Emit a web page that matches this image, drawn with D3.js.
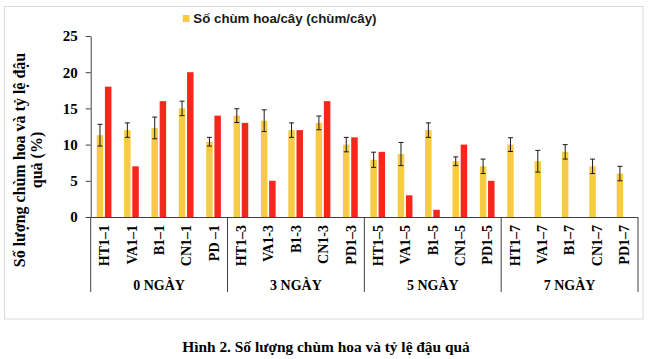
<!DOCTYPE html>
<html><head><meta charset="utf-8">
<script src="https://cdn.jsdelivr.net/npm/d3@7"></script>
<style>body{margin:0;background:#fff}svg{display:block}</style>
</head><body>
<svg id="c" width="650" height="359"></svg>
<script>
const categories = ["HT1–1","VA1–1","B1–1","CN1–1","PD –1",
  "HT1–3","VA1-3","B1-3","CN1-3","PD1–3",
  "HT1–5","VA1–5","B1–5","CN1–5","PD1–5",
  "HT1–7","VA1–7","B1–7","CN1–7","PD1–7"];
const groups = ["0 NGÀY","3 NGÀY","5 NGÀY","7 NGÀY"];
const groupSize = 5;
const flowerClusters = [11.3,12,12.3,15,10.4, 14,13.3,12,13,10, 7.9,8.7,12,7.7,7, 10,7.7,9,7,6];
const flowerErr = [1.5,1,1.5,1,0.6, 0.95,1.5,1,0.95,1, 1.05,1.6,1,0.6,1, 0.95,1.5,1,1,1];
const fruitSet = [18,7,16,20,14, 13,5,12,16,11, 9,3,1,10,5, null,null,null,null,null];
const yTicks = [0,5,10,15,20,25];
const legendLabel = "Số chùm hoa/cây (chùm/cây)";
const yTitle = ["Số lượng chùm hoa và tỷ lệ đậu","quả (%)"];
const caption = "Hình 2. Số lượng chùm hoa và tỷ lệ đậu quả";

const svg = d3.select("#c");
const serif = "'Liberation Serif','Times New Roman',serif";
const sans = "'Liberation Sans',Arial,sans-serif";
const yellow = "#F8CB45", red = "#F5271B";

// frame
svg.append("rect").attr("x",4.5).attr("y",6.5).attr("width",638.5).attr("height",312.5)
  .attr("fill","#fff").attr("stroke","#d9d9d9");

const x = d3.scaleBand().domain(categories).range([90.7,638]).paddingInner(0).paddingOuter(0);
const y = d3.scaleLinear().domain([0,25]).range([217,36]);
const bw = 6.5;

// y axis
const ya = svg.append("g").attr("transform","translate(90.7,0)")
  .call(d3.axisLeft(y).tickValues(yTicks).tickSize(5).tickSizeOuter(0).tickPadding(8));
ya.select(".domain").attr("stroke","#404040");
ya.selectAll(".tick line").attr("stroke","#404040");
ya.selectAll("text").attr("font-family",serif).attr("font-weight","bold")
  .attr("font-size",15).attr("fill","#000");

// bars
const idx = d3.range(categories.length);
svg.append("g").selectAll("rect").data(idx).join("rect")
  .attr("x",i=>x(categories[i])+x.bandwidth()/2-4.4-bw/2)
  .attr("y",i=>y(flowerClusters[i]))
  .attr("width",bw).attr("height",i=>y(0)-y(flowerClusters[i]))
  .attr("fill",yellow);
svg.append("g").selectAll("rect").data(idx.filter(i=>fruitSet[i]!=null)).join("rect")
  .attr("x",i=>x(categories[i])+x.bandwidth()/2+3.8-bw/2)
  .attr("y",i=>y(fruitSet[i]))
  .attr("width",bw).attr("height",i=>y(0)-y(fruitSet[i]))
  .attr("fill",red);

// error bars
const eg = svg.append("g").attr("stroke","#1a1a1a").attr("stroke-width",1);
idx.forEach(i=>{
  const cx = x(categories[i])+x.bandwidth()/2-4.4;
  const hi = y(flowerClusters[i]+flowerErr[i]), lo = y(flowerClusters[i]-flowerErr[i]);
  eg.append("line").attr("x1",cx).attr("x2",cx).attr("y1",hi).attr("y2",lo);
  eg.append("line").attr("x1",cx-2.5).attr("x2",cx+2.5).attr("y1",hi).attr("y2",hi);
  eg.append("line").attr("x1",cx-2.5).attr("x2",cx+2.5).attr("y1",lo).attr("y2",lo);
});

// x axis line & group separators
const xl = svg.append("g").attr("stroke","#404040").attr("stroke-width",1);
xl.append("line").attr("x1",90.7).attr("x2",638).attr("y1",y(0)+0.5).attr("y2",y(0)+0.5);
d3.range(groups.length+1).forEach(g=>{
  const gx = g<groups.length ? x(categories[g*groupSize]) : x(categories[categories.length-1])+x.bandwidth();
  xl.append("line").attr("x1",gx).attr("x2",gx).attr("y1",y(0)).attr("y2",292);
});

// category labels
svg.append("g").selectAll("text").data(categories).join("text")
  .attr("transform",d=>`translate(${x(d)+x.bandwidth()/2},225) rotate(-90)`)
  .attr("text-anchor","end").attr("dy","0.35em")
  .attr("font-family",serif).attr("font-weight","bold").attr("font-size",14).attr("fill","#000")
  .text(d=>d);

// group labels
svg.append("g").selectAll("text").data(groups).join("text")
  .attr("x",(d,g)=>{
    const a = x(categories[g*groupSize]);
    const b = x(categories[g*groupSize+groupSize-1])+x.bandwidth();
    return (a+b)/2;
  })
  .attr("y",290).attr("text-anchor","middle")
  .attr("font-family",serif).attr("font-weight","bold").attr("font-size",14).attr("fill","#000")
  .text(d=>d);

// y title
const yt = svg.append("text").attr("transform","translate(25,160) rotate(-90)")
  .attr("text-anchor","middle").attr("font-family",serif).attr("font-weight","bold")
  .attr("font-size",16).attr("fill","#000");
yTitle.forEach((t,k)=>yt.append("tspan").attr("x",0).attr("dy",k===0?0:"1.05em").text(t));

// legend
svg.append("rect").attr("x",182.7).attr("y",15).attr("width",6.8).attr("height",7).attr("fill",yellow);
svg.append("text").attr("x",193.3).attr("y",23.2).attr("font-family",sans).attr("font-weight","bold")
  .attr("font-size",13.3).attr("fill","#1a1a1a").text(legendLabel);

// caption
svg.append("text").attr("x",326).attr("y",352).attr("text-anchor","middle")
  .attr("font-family",serif).attr("font-weight","bold").attr("font-size",15.4).attr("fill","#000")
  .text(caption);
</script>
</body></html>
